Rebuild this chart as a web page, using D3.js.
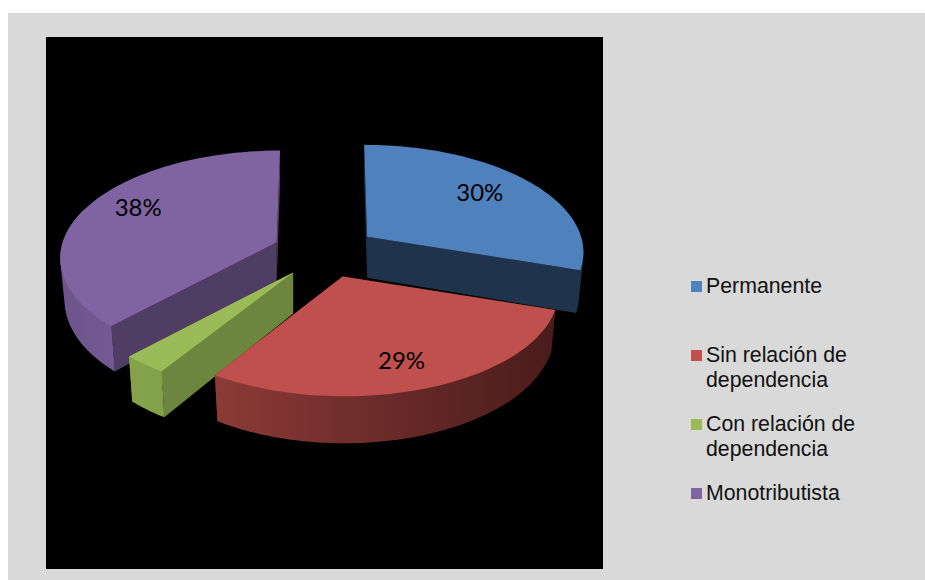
<!DOCTYPE html>
<html>
<head>
<meta charset="utf-8">
<script src="https://cdnjs.cloudflare.com/ajax/libs/d3/7.8.5/d3.min.js"></script>
<style>
  html, body { margin: 0; padding: 0; background: #fff; }
  svg { display: block; }
</style>
</head>
<body>
<svg id="chart" width="925" height="580"></svg>
<script>
// Employment categories and their shares (percent)
const categories = ["Permanente", "Sin relación de dependencia", "Con relación de dependencia", "Monotributista"];
const shares = [30, 29, 3, 38];
const valueLabels = ["30%", "29%", null, "38%"];

// Two-line wrapping of the legend entries
const legendLines = [["Permanente"], ["Sin relación de", "dependencia"], ["Con relación de", "dependencia"], ["Monotributista"]];

// Slice palette: top surface, cut face, outer wall gradient ends
const topColors = ["#4f81bd", "#c0504d", "#9bbb59", "#8064a2"];
const faceColors = ["#1f344c", "#5a2725", "#6c853f", "#503d63"];
const wallFrom = ["#1f344c", "#8c3a37", "#86a34c", "#6d548c"];
const wallTo = ["#1f344c", "#491c1b", "#82a04a", "#735a94"];

// Nudges for the value labels, in pixels
const labelNudgeX = [-4, -3, 0, -1];
const labelNudgeY = [-2, 2, 0, -8];
const labelRadius = [0.72, 0.76, 0, 0.72];

const svg = d3.select("#chart");
const defs = svg.append("defs");

// Panel and plot backgrounds
svg.append("rect").attr("x", 8).attr("y", 13).attr("width", 917).attr("height", 567).attr("fill", "#d9d9d9");
svg.append("rect").attr("x", 46).attr("y", 37).attr("width", 557).attr("height", 532).attr("fill", "#000");

// Projection parameters of the tilted pie
const centre = { x: 325, y: 252 };
const radiusX = 214, radiusY = 104, perspective = 0.132;
const explodeX = 52, explodeY = 26;
const depth = 41, lowerScaleX = 0.98, lowerScaleY = 1.05;

const pie = d3.pie().sort(null).startAngle(0).endAngle(2 * Math.PI);
const arcs = pie(shares).map((a, i) => {
  const mid = (a.startAngle + a.endAngle) / 2;
  return {
    i,
    start: a.startAngle,
    end: a.endAngle,
    mid,
    apex: { x: centre.x + explodeX * Math.sin(mid), y: centre.y - explodeY * Math.cos(mid) }
  };
});

// Screen offset from a slice's apex for a point at angle t and radius r
function project(slice, t, r = 1) {
  const z = -Math.cos(t) * r;
  const s = 1 / (1 - perspective * z);
  return {
    x: radiusX * Math.sin(t) * r * s + 0.6 * (slice.apex.x - centre.x) * (s - 1),
    y: radiusY * z * s
  };
}
const topPoint = (slice, t) => {
  const p = project(slice, t);
  return [slice.apex.x + p.x, slice.apex.y + p.y];
};
const lowerPoint = (slice, t) => {
  const p = project(slice, t);
  return [slice.apex.x + p.x * lowerScaleX, slice.apex.y + depth + p.y * lowerScaleY];
};

const line = d3.line();
const sweep = (a, b) => d3.range(0, 61).map(k => a + (b - a) * k / 60);

// Back-to-front painting order
const paintOrder = [0, 3, 2, 1];
const slices = svg.append("g");

paintOrder.forEach(i => {
  const sl = arcs[i];
  const g = slices.append("g");
  const angles = sweep(sl.start, sl.end);

  const grad = defs.append("linearGradient").attr("id", "wall" + i).attr("x1", 0).attr("x2", 1).attr("y1", 0).attr("y2", 0);
  grad.append("stop").attr("offset", 0).attr("stop-color", wallFrom[i]);
  grad.append("stop").attr("offset", 1).attr("stop-color", wallTo[i]);

  // Cut faces running from the apex to the rim; the wall and top paint over the hidden ones
  [sl.start, sl.end].forEach(t => {
    const pts = [[sl.apex.x, sl.apex.y], topPoint(sl, t), lowerPoint(sl, t), [sl.apex.x, sl.apex.y + depth]];
    g.append("path").attr("d", line(pts) + "Z").attr("fill", faceColors[i]);
  });

  // Outer wall as the hull of both rims, so its silhouette stays tangent at the sides
  const wallAngles = angles.filter(t => Math.sin(t - Math.PI / 2) > -0.35);
  const wallPts = d3.polygonHull(wallAngles.map(t => topPoint(sl, t)).concat(wallAngles.map(t => lowerPoint(sl, t))));
  g.append("path").attr("d", line(wallPts) + "Z").attr("fill", `url(#wall${i})`);

  // Top surface
  const topPts = [[sl.apex.x, sl.apex.y]].concat(angles.map(t => topPoint(sl, t)));
  g.append("path").attr("d", line(topPts) + "Z").attr("fill", topColors[i]);
});

// Value labels
arcs.forEach(sl => {
  if (!valueLabels[sl.i]) return;
  const p = project(sl, sl.mid, labelRadius[sl.i]);
  svg.append("text")
    .attr("x", sl.apex.x + p.x + labelNudgeX[sl.i])
    .attr("y", sl.apex.y + p.y + labelNudgeY[sl.i])
    .attr("dy", "0.35em")
    .attr("text-anchor", "middle")
    .attr("font-family", "Lato, Carlito, sans-serif")
    .attr("font-size", 24)
    .attr("fill", "#000")
    .text(valueLabels[sl.i]);
});

// Legend
const legendY = d3.scalePoint().domain(categories).range([286.5, 493.5]);
const legend = svg.append("g");
categories.forEach((c, i) => {
  const y = legendY(c);
  legend.append("rect").attr("x", 691).attr("y", y - 5.5).attr("width", 11).attr("height", 11).attr("fill", topColors[i]);
  const text = legend.append("text")
    .attr("font-family", "'Liberation Sans', Arial, sans-serif")
    .attr("font-size", 21.3)
    .attr("fill", "#111");
  legendLines[i].forEach((t, k) => {
    text.append("tspan").attr("x", 706).attr("y", y + 6.5 + k * 25).text(t);
  });
});
</script>
</body>
</html>
